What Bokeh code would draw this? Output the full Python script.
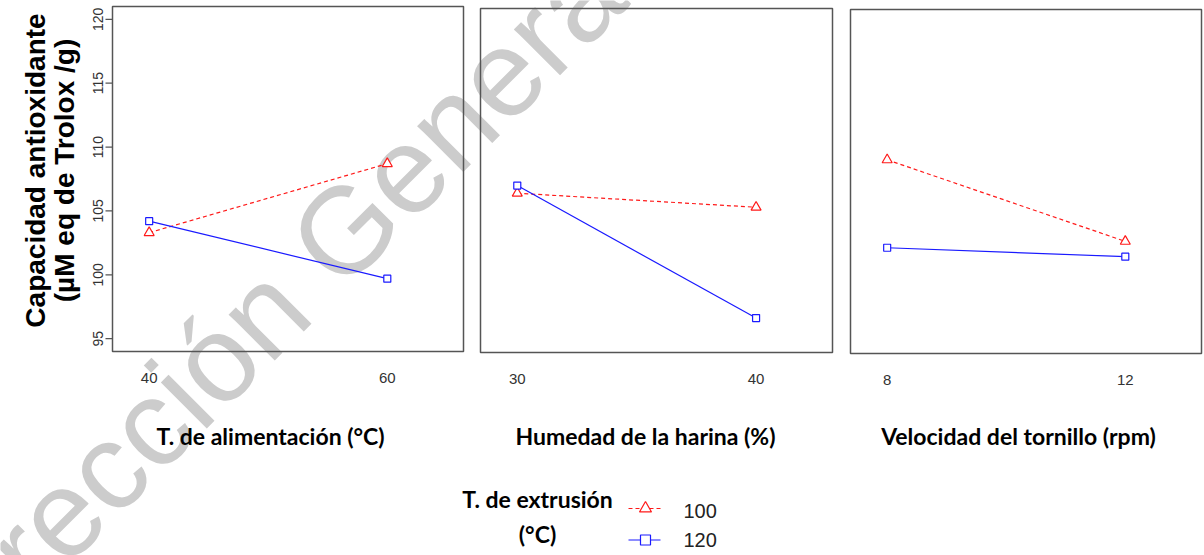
import numpy as np
from bokeh.plotting import figure
from bokeh.models import Range1d
from bokeh.core.properties import value
from bokeh.embed import file_html
from bokeh.resources import INLINE

# Mean antioxidant capacity (µM Trolox eq / g) per factor level,
# one series per extrusion temperature (100 °C and 120 °C)
alim_levels = ["40", "60"]
alim_100 = [103.3, 108.7]
alim_120 = [104.2, 99.7]

hum_levels = ["30", "40"]
hum_100 = [106.5, 105.4]
hum_120 = [107.1, 96.7]

vel_levels = ["8", "12"]
vel_100 = [109.2, 102.8]
vel_120 = [102.3, 101.6]

extrusion_temps = ["100", "120"]
y_ticks = [95, 100, 105, 110, 115, 120]
x_titles = ["T. de alimentación (°C)", "Humedad de la harina (%)", "Velocidad del tornillo (rpm)"]
y_title = ["Capacidad antioxidante", "(µM eq de Trolox /g)"]
legend_title = ["T. de extrusión", "(°C)"]

W, H = 1204, 555
RED, BLUE = "#ff1a1a", "#1a1aff"
FRAME = "#555555"
TICK_FONT = value("Liberation Sans")
TITLE_FONT = value("Lato")

# data extents of every panel (x: factor level positions 1..n)
XS = (0.846, 2.32)
YS = (94.0, 121.0)

# screen boxes of the three panels: left, right, bottom, top
boxes = [(112, 463, 351, 6), (480, 832, 352, 8), (850, 1201, 353, 9)]
title_x = [270, 645, 1018]

p = figure(width=W, height=H, x_range=Range1d(0, W), y_range=Range1d(H, 0),
           x_axis_type=None, y_axis_type=None, toolbar_location=None,
           output_backend="svg", min_border=0, outline_line_color=None)
p.background_fill_color = "white"

# background watermark
p.text(x=[272], y=[302], text=["Dirección General"], angle=45, angle_units="deg",
       text_font=value("Liberation Sans"), text_font_size="123px",
       text_color="#cccccc", text_align="center", text_baseline="middle")

panels = [(alim_levels, alim_100, alim_120),
          (hum_levels, hum_100, hum_120),
          (vel_levels, vel_100, vel_120)]

for i, ((levels, v100, v120), (l, r, b, t)) in enumerate(zip(panels, boxes)):
    sp = p.subplot(x_source=Range1d(*XS), y_source=Range1d(*YS),
                   x_target=Range1d(l, r), y_target=Range1d(b, t))
    xs = list(range(1, len(levels) + 1))

    sp.quad(left=[XS[0]], right=[XS[1]], bottom=[YS[0]], top=[YS[1]],
            fill_color=None, line_color=FRAME, line_width=1.5)

    sp.line(xs, v100, line_color=RED, line_dash="4 3", line_width=1.2)
    sp.line(xs, v120, line_color=BLUE, line_width=1.2)
    sp.scatter(xs, v100, marker="triangle", size=10, fill_color="white",
               line_color=RED, line_width=1.2)
    sp.scatter(xs, v120, marker="square", size=7, fill_color="white",
               line_color=BLUE, line_width=1.2)

    # x tick labels
    sp.text(x=xs, y=[YS[0]] * len(xs), text=levels, y_offset=26,
            text_font=TICK_FONT, text_font_size="15px", text_color="#333333",
            text_align="center", text_baseline="alphabetic")

    if i == 0:
        sp.ray(x=[XS[0]] * len(y_ticks), y=y_ticks, length=7, length_units="screen",
               angle=np.pi, line_color=FRAME, line_width=1.2)
        sp.text(x=[XS[0]] * len(y_ticks), y=y_ticks, text=[str(v) for v in y_ticks],
                x_offset=-15, angle=np.pi / 2,
                text_font=TICK_FONT, text_font_size="14px", text_color="#333333",
                text_align="center", text_baseline="alphabetic")

# x axis titles
p.text(x=title_x, y=[435] * 3, text=x_titles, text_font=TITLE_FONT,
       text_font_style="bold", text_font_size="23px", text_color="black",
       text_align="center", text_baseline="alphabetic")

# y axis title (two lines)
p.text(x=[35, 63.5], y=[170, 170], text=y_title, angle=90, angle_units="deg",
       text_font=value("Liberation Sans"), text_font_style="bold",
       text_font_size="28px", text_color="black",
       text_align="center", text_baseline="alphabetic")

# legend
p.text(x=[537, 537], y=[498, 533], text=legend_title, text_font=TITLE_FONT,
       text_font_style="bold", text_font_size="23px", text_color="black",
       text_align="center", text_baseline="middle")
p.line([628, 660], [508, 508], line_color=RED, line_dash="4 3", line_width=1.2)
p.scatter([645], [508], marker="triangle", size=12, fill_color="white",
          line_color=RED, line_width=1.2)
p.line([628, 660], [539.5, 539.5], line_color=BLUE, line_width=1.2)
p.scatter([645], [539.5], marker="square", size=10, fill_color="white",
          line_color=BLUE, line_width=1.2)
p.text(x=[683, 683], y=[510, 539.5], text=extrusion_temps,
       text_font=value("Liberation Sans"), text_font_size="20px", text_color="#222222",
       text_align="left", text_baseline="middle")

open("out.html", "w").write(file_html(p, INLINE))
